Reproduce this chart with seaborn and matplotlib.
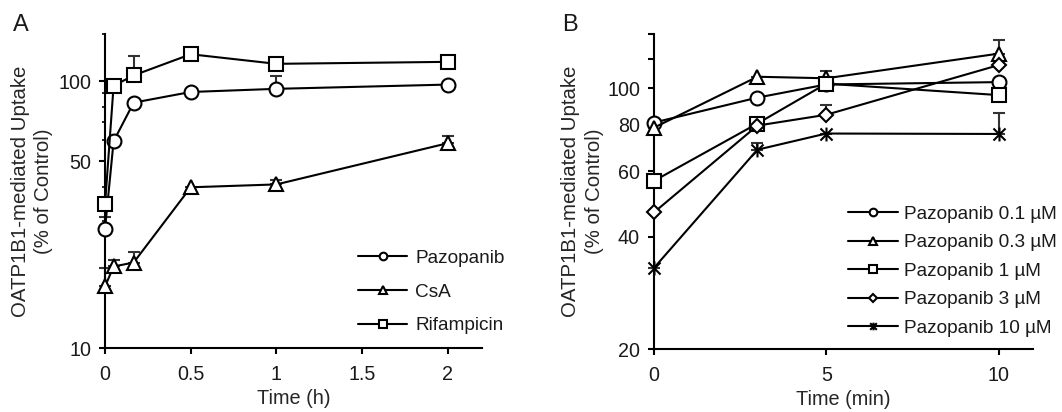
import numpy as np
import pandas as pd
import matplotlib
matplotlib.use("Agg")
import matplotlib.pyplot as plt
from matplotlib.path import Path
from matplotlib.ticker import FixedLocator, NullFormatter
import seaborn as sns

# ---- Panel A: time course (h) ----
time_h = [0, 0.05, 0.167, 0.5, 1, 2]
pazopanib = [28, 59.5, 83, 91, 93.5, 97]
csa = [17, 20.2, 20.9, 40, 41, 58.5]
rifampicin = [34.5, 96, 105, 126, 116, 118]
pazopanib_sd = [3, np.nan, np.nan, np.nan, 11, np.nan]
csa_sd = [2.9, 1.2, 1.9, np.nan, 1.5, 4]
rifampicin_sd = [np.nan, np.nan, 19, np.nan, np.nan, np.nan]
labels_a = ["Pazopanib", "CsA", "Rifampicin"]

# ---- Panel B: pre-incubation with pazopanib (min) ----
time_min = [0, 3, 5, 10]
paz_01 = [81, 94.5, 102.5, 104]
paz_03 = [78.5, 107.5, 106.5, 124]
paz_1 = [56.5, 80.5, 103, 96]
paz_3 = [46.5, 79.5, 85, 115.5]
paz_10 = [33, 68.5, 75.7, 75.5]
paz_01_sd = [np.nan, np.nan, np.nan, np.nan]
paz_03_sd = [np.nan, np.nan, 5, 11]
paz_1_sd = [np.nan, np.nan, np.nan, np.nan]
paz_3_sd = [np.nan, np.nan, 5.2, np.nan]
paz_10_sd = [np.nan, 3, np.nan, 10.5]
labels_b = ["Pazopanib 0.1 \u00b5M", "Pazopanib 0.3 \u00b5M", "Pazopanib 1 \u00b5M",
            "Pazopanib 3 \u00b5M", "Pazopanib 10 \u00b5M"]

sns.set_theme(style="ticks")
plt.rcParams["font.family"] = ["Liberation Sans", "DejaVu Sans"]
plt.rcParams["axes.linewidth"] = 1.5
plt.rcParams["xtick.major.width"] = 1.5
plt.rcParams["ytick.major.width"] = 1.5
plt.rcParams["ytick.minor.width"] = 1.2
plt.rcParams["xtick.major.size"] = 4
plt.rcParams["ytick.major.size"] = 4
plt.rcParams["ytick.minor.size"] = 2.5
plt.rcParams["text.color"] = "#1a1a1a"
plt.rcParams["xtick.color"] = "black"
plt.rcParams["ytick.color"] = "black"
plt.rcParams["xtick.labelcolor"] = "#1a1a1a"
plt.rcParams["ytick.labelcolor"] = "#1a1a1a"

FS_TICK = 14.2
FS_XLAB = 14.3
FS_YLAB = 14.7
FS_LEG = 13.7

# X with a vertical bar through it
star = Path([(-1, -1), (1, 1), (-1, 1), (1, -1), (0, -1.15), (0, 1.15)],
            [Path.MOVETO, Path.LINETO, Path.MOVETO, Path.LINETO, Path.MOVETO, Path.LINETO])

fig = plt.figure(figsize=(10.62, 4.12), dpi=100)
ax_a = fig.add_axes([0.0989, 0.1553, 0.3550, 0.7621])
ax_b = fig.add_axes([0.6158, 0.1529, 0.3569, 0.7646])


def draw_panel(ax, t, series, sds, labels, markers, sizes):
    frames = []
    for lab, vals in zip(labels, series):
        frames.append(pd.DataFrame({"t": t, "v": vals, "s": lab}))
    df = pd.concat(frames, ignore_index=True)
    for vals, sd in zip(series, sds):
        sd = np.asarray(sd, dtype=float)
        ax.errorbar(t, vals, yerr=[np.zeros_like(sd), sd], fmt="none",
                    ecolor="#333333", elinewidth=1.5, capsize=4, capthick=1.5,
                    zorder=1, clip_on=False)
    handles = []
    for lab, mk, ms in zip(labels, markers, sizes):
        sub = df[df["s"] == lab]
        sns.lineplot(data=sub, x="t", y="v", ax=ax, color="black", lw=1.5,
                     marker=mk, markersize=ms, mfc="white", mec="black", mew=1.5,
                     legend=False, errorbar=None, sort=False, zorder=3, clip_on=False)
        handles.append(ax.lines[-1])
    return handles


# Panel A
h_a = draw_panel(ax_a, time_h, [pazopanib, csa, rifampicin],
                 [pazopanib_sd, csa_sd, rifampicin_sd], labels_a,
                 ["o", "^", "s"], [10, 10, 10])
ax_a.set_yscale("log")
ax_a.set_ylim(10, 150)
ax_a.set_xlim(0, 2.2)
ax_a.yaxis.set_major_locator(FixedLocator([10, 50, 100]))
ax_a.yaxis.set_minor_locator(FixedLocator([20, 30, 40, 60, 70, 80, 90, 150]))
ax_a.yaxis.set_minor_formatter(NullFormatter())
ax_a.set_yticklabels(["10", "50", "100"])
ax_a.set_xticks([0, 0.5, 1, 1.5, 2])
ax_a.set_xticklabels(["0", "0.5", "1", "1.5", "2"])

# Panel B
h_b = draw_panel(ax_b, time_min, [paz_01, paz_03, paz_1, paz_3, paz_10],
                 [paz_01_sd, paz_03_sd, paz_1_sd, paz_3_sd, paz_10_sd], labels_b,
                 ["o", "^", "s", "D", star], [10, 10, 10, 7, 10])
ax_b.set_yscale("log")
ax_b.set_ylim(20, 140)
ax_b.set_xlim(0, 11)
ax_b.yaxis.set_major_locator(FixedLocator([20, 40, 60, 80, 100, 120, 140]))
ax_b.yaxis.set_minor_locator(FixedLocator([]))
ax_b.set_yticklabels(["20", "40", "60", "80", "100", "", ""])
ax_b.set_xticks([0, 5, 10])
ax_b.set_xticklabels(["0", "5", "10"])

for ax, xl in [(ax_a, "Time (h)"), (ax_b, "Time (min)")]:
    sns.despine(ax=ax)
    for sp in ax.spines.values():
        sp.set_color("black")
    ax.tick_params(axis="both", which="both", direction="out", labelsize=FS_TICK)
    ax.tick_params(axis="x", which="major", pad=8)
    ax.tick_params(axis="y", which="major", pad=6)
    ax.set_xlabel(xl, fontsize=FS_XLAB, labelpad=4)
    ax.set_ylabel("OATP1B1-mediated Uptake\n(% of Control)", fontsize=FS_YLAB,
                  linespacing=1.3)

ax_a.yaxis.set_label_coords(-0.138, 0.5)
ax_b.yaxis.set_label_coords(-0.132, 0.5)

leg_a = fig.legend(h_a, labels_a, loc="upper left", bbox_to_anchor=(0.3371, 0.394),
                   bbox_transform=fig.transFigure, frameon=False, fontsize=FS_LEG,
                   borderpad=0, borderaxespad=0, handlelength=2.58, handletextpad=0.42,
                   labelspacing=0.86, markerscale=0.55)
leg_b = fig.legend(h_b, labels_b, loc="upper left", bbox_to_anchor=(0.7985, 0.5005),
                   bbox_transform=fig.transFigure, frameon=False, fontsize=FS_LEG,
                   borderpad=0, borderaxespad=0, handlelength=2.63, handletextpad=0.32,
                   labelspacing=0.58, markerscale=0.55)

fig.text(13 / 1062, 1 - 14 / 412, "A", fontsize=17, ha="left", va="top")
fig.text(562 / 1062, 1 - 14 / 412, "B", fontsize=17, ha="left", va="top")

fig.savefig("out.png", dpi=100)
